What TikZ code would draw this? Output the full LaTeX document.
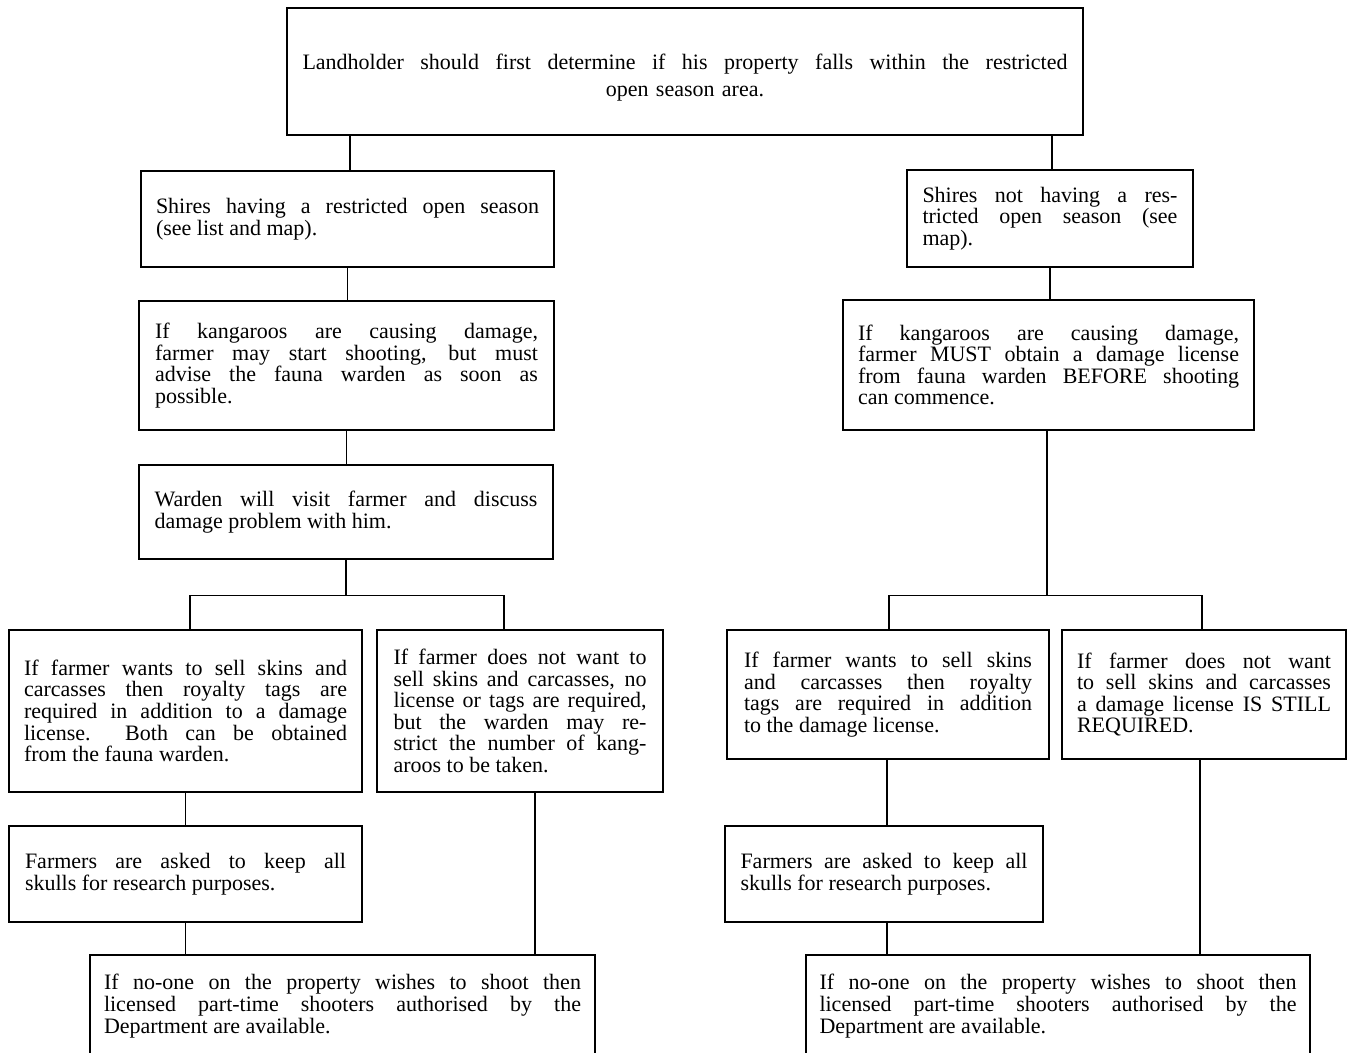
\documentclass[tikz,border=0pt]{standalone}
\usepackage{fontspec}
\setmainfont{Liberation Serif}
\usepackage{tikz}
\usetikzlibrary{calc,positioning}
\tolerance=10000
\hbadness=10000

\tikzset{
	panel/.style={draw, rectangle, line width=1.6pt, inner sep=0pt, align=justify,
		font=\fontsize{22}{21.6}\selectfont},
	link/.style={line width=1.1pt}
}

\begin{document}
\begin{tikzpicture}[x=1pt,y=-1pt]
	\useasboundingbox (0,0) rectangle (1351,1052);
	\node[panel, align=center, font=\fontsize{22}{27}\selectfont, text depth=20pt, minimum width=796pt, minimum height=127pt, text width=770pt] (area) at (685,71.5)
		{\makebox[765pt][s]{\spaceskip=0pt\relax Landholder should first determine if his property falls within the restricted}\\ open season area.};
	%%%%% restricted open season
	\node[panel, minimum width=413pt, minimum height=96pt, text width=383pt] (shiresL) at (347.5,219)
		{Shires having a restricted open season\linebreak (see list and map).};
	\node[panel, minimum width=415pt, minimum height=129pt, text width=383pt] (kangL) at (346.5,365.5)
		{If kangaroos are causing damage,\linebreak farmer may start shooting, but must\linebreak advise the fauna warden as soon as\linebreak possible.};
	\node[panel, minimum width=414pt, minimum height=94pt, text width=383pt] (warden) at (346,512)
		{Warden will visit farmer and discuss\linebreak damage problem with him.};
	\node[panel, minimum width=353pt, minimum height=162pt, text width=323pt] (sellL) at (185.5,711)
		{If farmer wants to sell skins and\linebreak carcasses then royalty tags are\linebreak required in addition to a damage\linebreak license.\ \ Both can be obtained\linebreak from the fauna warden.};
	\node[panel, minimum width=286pt, minimum height=162pt, text width=253pt] (nosellL) at (520,711)
		{If farmer does not want to\linebreak sell skins and carcasses, no\linebreak license or tags are required,\linebreak but the warden may re-\linebreak strict the number of kang-\linebreak aroos to be taken.};
	\node[panel, minimum width=353pt, minimum height=96pt, text width=321pt] (skullsL) at (185.5,874)
		{Farmers are asked to keep all\linebreak skulls for research purposes.};
	\node[panel, minimum width=505pt, minimum height=102pt, text width=477pt] (shootL) at (342.5,1006)
		{If no-one on the property wishes to shoot then\linebreak licensed part-time shooters authorised by the\linebreak Department are available.};
	%%%%% no restricted open season
	\node[panel, minimum width=286pt, minimum height=97pt, text width=255pt] (shiresR) at (1050,218.5)
		{Shires not having a res-\linebreak tricted open season (see\linebreak map).};
	\node[panel, minimum width=411pt, minimum height=130pt, text width=381pt] (kangR) at (1048.5,365)
		{If kangaroos are causing damage,\linebreak farmer MUST obtain a damage license\linebreak from fauna warden BEFORE shooting\linebreak can commence.};
	\node[panel, minimum width=322pt, minimum height=129pt, text width=288pt] (sellR) at (888,694.5)
		{If farmer wants to sell skins\linebreak and carcasses then royalty\linebreak tags are required in addition\linebreak to the damage license.};
	\node[panel, minimum width=284pt, minimum height=129pt, text width=254pt] (nosellR) at (1204,694.5)
		{If farmer does not want\linebreak to sell skins and carcasses\linebreak a damage license IS STILL\linebreak REQUIRED.};
	\node[panel, minimum width=318pt, minimum height=96pt, text width=287pt] (skullsR) at (884,874)
		{Farmers are asked to keep all\linebreak skulls for research purposes.};
	\node[panel, minimum width=504pt, minimum height=102pt, text width=477pt] (shootR) at (1058,1006)
		{If no-one on the property wishes to shoot then\linebreak licensed part-time shooters authorised by the\linebreak Department are available.};
	%%%%% connectors
	\draw[link] ([xshift=2.5pt]shiresL.north) -- ([xshift=2.5pt]shiresL.north |- area.south);
	\draw[link] ([xshift=2pt]shiresR.north) -- ([xshift=2pt]shiresR.north |- area.south);
	\draw[link] (shiresL.south) -- (shiresL.south |- kangL.north);
	\draw[link] (kangL.south) -- (kangL.south |- warden.north);
	\draw[link] (warden.south) -- ++(0,36) coordinate (forkL);
	\draw[link] (forkL) -| ([xshift=4.5pt]sellL.north);
	\draw[link] (forkL) -| ([xshift=-16pt]nosellL.north);
	\draw[link] (sellL.south) -- (sellL.south |- skullsL.north);
	\draw[link] (skullsL.south) -- (skullsL.south |- shootL.north);
	\draw[link] ([xshift=15pt]nosellL.south) -- ([xshift=15pt]nosellL.south |- shootL.north);
	\draw[link] (shiresR.south) -- (shiresR.south |- kangR.north);
	\draw[link] ([xshift=-1.5pt]kangR.south) -- ++(0,165) coordinate (forkR);
	\draw[link] (forkR) -| ([xshift=1pt]sellR.north);
	\draw[link] (forkR) -| ([xshift=-2pt]nosellR.north);
	\draw[link] ([xshift=-1pt]sellR.south) -- ([xshift=-1pt]sellR.south |- skullsR.north);
	\draw[link] ([xshift=3pt]skullsR.south) -- ([xshift=3pt]skullsR.south |- shootR.north);
	\draw[link] ([xshift=-4pt]nosellR.south) -- ([xshift=-4pt]nosellR.south |- shootR.north);
\end{tikzpicture}
\end{document}
